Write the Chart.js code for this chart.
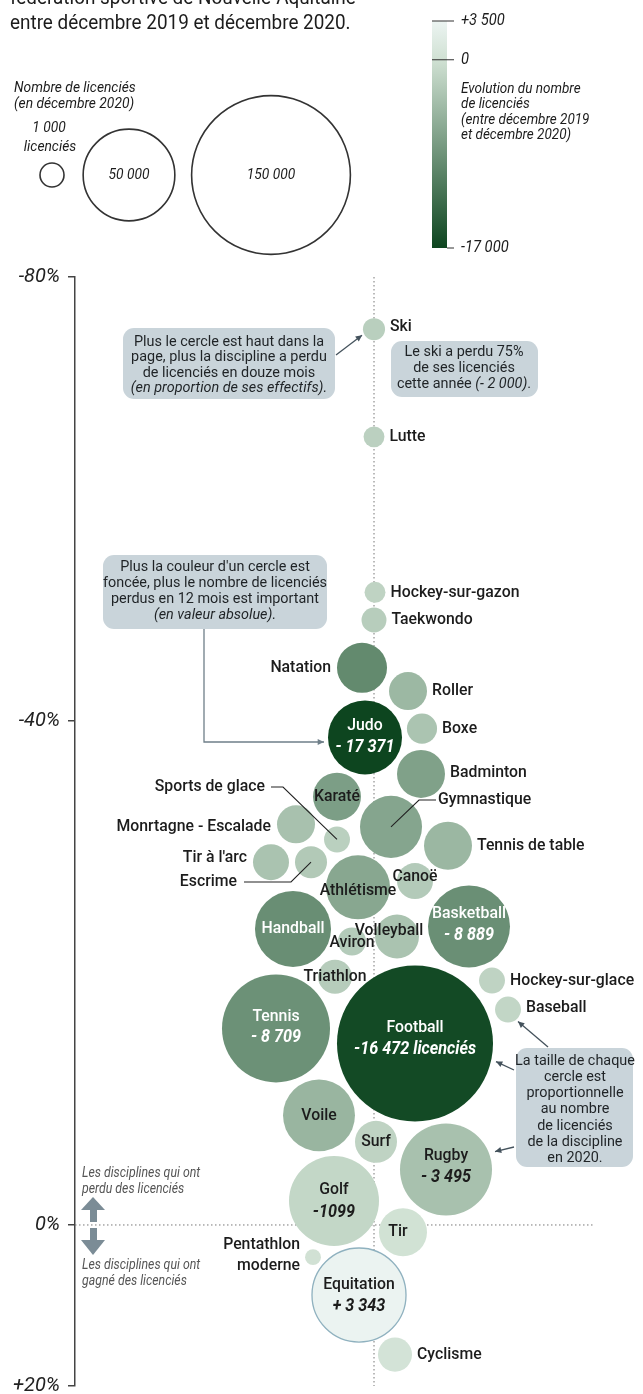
<!DOCTYPE html>
<html>
<head>
<meta charset="utf-8">
<script src="https://cdn.jsdelivr.net/npm/chart.js@4.4.1/dist/chart.umd.min.js"></script>
<style>
  html, body { margin: 0; padding: 0; background: #fff; }
  #wrap { position: relative; width: 643px; height: 1394px; }
</style>
</head>
<body>
<div id="wrap"><canvas id="chart"></canvas></div>
<script>
const sports = ["Ski", "Lutte", "Hockey-sur-gazon", "Taekwondo", "Natation", "Roller", "Boxe", "Judo",
  "Badminton", "Karaté", "Gymnastique", "Monrtagne - Escalade", "Sports de glace", "Tennis de table",
  "Tir à l'arc", "Escrime", "Canoë", "Athlétisme", "Handball", "Aviron", "Volleyball", "Basketball",
  "Triathlon", "Hockey-sur-glace", "Baseball", "Tennis", "Football", "Voile", "Surf", "Rugby", "Golf",
  "Tir", "Pentathlon moderne", "Equitation", "Cyclisme"];
// horizontal place in the swarm (no meaning, just the layout of the graphic)
const swarmX = [374, 374, 375, 374, 362, 408, 422, 365, 421, 337, 391, 296, 337, 448, 271, 311, 415, 358,
  293, 352, 397, 469, 335, 492, 508, 276, 415, 319, 376, 446, 334, 403, 313, 359, 395];
// evolution in % between Dec 2019 and Dec 2020
const pctChange = [-75.3, -65.6, -51.6, -49.1, -44.8, -42.7, -39.4, -38.7, -35.8, -34.0, -31.6, -31.8, -30.6,
  -30.1, -28.8, -28.8, -27.3, -26.8, -23.5, -22.5, -22.9, -23.7, -19.7, -19.4, -17.1, -15.6, -14.4, -8.7,
  -6.6, -4.4, -1.9, 0.9, 4.0, 8.7, 16.1];
// licenciés in Dec 2020 (estimated from circle areas)
const licencies = [2900, 2600, 2600, 3700, 14900, 8600, 5400, 32600, 13700, 13700, 22900, 8600, 4000, 13700,
  7700, 6100, 7700, 24400, 34400, 4700, 11500, 40000, 6900, 4000, 4000, 69400, 144800, 30800, 10500, 50400,
  48200, 13700, 1500, 52600, 6900];
// evolution in number of licenciés (colour)
const evolution = [-2000, -1800, -1500, -2200, -9500, -4500, -3200, -17371, -7000, -7300, -6500, -3500, -1900,
  -4600, -3300, -2600, -2500, -6300, -9000, -2400, -3300, -8889, -2300, -1500, -1200, -8709, -16472, -4800,
  -1500, -3495, -1099, 150, 80, 3343, 400];

const yTicks = [-80, -40, 0, 20];
const sizeKey = [1000, 50000, 150000];
const colourKey = [3500, 0, -17000];

// --- scale helpers ---
const FONT = 'Roboto, "Noto Sans", sans-serif';
const radiusFor = (n) => 0.205 * Math.sqrt(n);
const yShare = [0, 0.4004, 0.8548, 1];
const toShare = (v) => {
  let i = 0;
  while (i < yTicks.length - 2 && v > yTicks[i + 1]) i++;
  const t = (v - yTicks[i]) / (yTicks[i + 1] - yTicks[i]);
  return yShare[i] + t * (yShare[i + 1] - yShare[i]);
};
const fromShare = (d) => {
  let i = 0;
  while (i < yShare.length - 2 && d > yShare[i + 1]) i++;
  const t = (d - yShare[i]) / (yShare[i + 1] - yShare[i]);
  return yTicks[i] + t * (yTicks[i + 1] - yTicks[i]);
};

// the graphic's vertical axis is not evenly spaced between its ticks
class SplitScale extends Chart.LinearScale {
  getPixelForValue(value) {
    if (value === null || isNaN(value)) return NaN;
    return this.getPixelForDecimal(toShare(value));
  }
  getValueForPixel(pixel) {
    return fromShare(this.getDecimalForPixel(pixel));
  }
}
SplitScale.id = "split";

// bubble chart without the extra layout padding for the biggest radius
class SwarmController extends Chart.BubbleController {
  getMaxOverflow() { return 0; }
}
SwarmController.id = "swarm";
SwarmController.defaults = Chart.BubbleController.defaults;
SwarmController.overrides = Chart.BubbleController.overrides;
Chart.register(SplitScale, SwarmController);

const colourStops = [[3500, [236, 244, 242]], [0, [208, 225, 211]], [-17000, [13, 69, 31]]];
const colourFor = (v) => {
  let i = 0;
  while (i < colourStops.length - 2 && v < colourStops[i + 1][0]) i++;
  const [v0, c0] = colourStops[i];
  const [v1, c1] = colourStops[i + 1];
  let t = (v - v0) / (v1 - v0);
  t = Math.max(0, Math.min(1, t));
  const c = c0.map((a, k) => Math.round(a + (c1[k] - a) * t));
  return `rgb(${c[0]}, ${c[1]}, ${c[2]})`;
};

// --- text helpers ---
const write = (ctx, text, x, y, o = {}) => {
  const size = o.size || 17;
  const weight = o.bold ? "bold " : o.medium ? "500 " : "";
  ctx.save();
  ctx.font = `${o.italic ? "italic " : ""}${weight}${size}px ${FONT}`;
  ctx.fillStyle = o.color || "#1c1c1c";
  ctx.textBaseline = o.baseline || "middle";
  ctx.textAlign = "left";
  const sx = o.sx || 0.96;
  const w = ctx.measureText(text).width * sx;
  let left = x;
  if (o.align === "center") left = x - w / 2;
  else if (o.align === "right") left = x - w;
  ctx.translate(left, y);
  ctx.scale(sx, 1);
  ctx.fillText(text, 0, 0);
  ctx.restore();
  return w;
};

const writeParts = (ctx, parts, x, y, o = {}) => {
  const size = o.size || 15;
  const sx = o.sx || 0.96;
  ctx.save();
  const widths = parts.map((p) => {
    ctx.font = `${p.italic ? "italic " : ""}${size}px ${FONT}`;
    return ctx.measureText(p.t).width * sx;
  });
  ctx.restore();
  const total = widths.reduce((a, b) => a + b, 0);
  let left = x - total / 2;
  parts.forEach((p, i) => {
    write(ctx, p.t, left, y, { ...o, italic: p.italic, size, sx });
    left += widths[i];
  });
};

const arrowHead = (ctx, x0, y0, x1, y1, size = 7) => {
  const a = Math.atan2(y1 - y0, x1 - x0);
  ctx.beginPath();
  ctx.moveTo(x1, y1);
  ctx.lineTo(x1 - size * Math.cos(a - 0.45), y1 - size * Math.sin(a - 0.45));
  ctx.lineTo(x1 - size * Math.cos(a + 0.45), y1 - size * Math.sin(a + 0.45));
  ctx.closePath();
  ctx.fill();
};

const arrowLine = (ctx, pts, colour) => {
  ctx.save();
  ctx.strokeStyle = colour;
  ctx.fillStyle = colour;
  ctx.lineWidth = 1.3;
  ctx.beginPath();
  pts.forEach(([x, y], i) => (i ? ctx.lineTo(x, y) : ctx.moveTo(x, y)));
  ctx.stroke();
  const n = pts.length;
  arrowHead(ctx, pts[n - 2][0], pts[n - 2][1], pts[n - 1][0], pts[n - 1][1]);
  ctx.restore();
};

const noteBox = (ctx, x, y, w, h, lines, cx, firstY, step) => {
  ctx.save();
  ctx.fillStyle = "#c9d4da";
  ctx.beginPath();
  ctx.roundRect(x, y, w, h, 11);
  ctx.fill();
  ctx.restore();
  lines.forEach((parts, i) => writeParts(ctx, parts, cx, firstY + i * step, { size: 15, color: "#1f2326" }));
};

// --- label layout ---
const labelSpec = {
  "Ski": { pos: "right", dy: -2 },
  "Lutte": { pos: "right" },
  "Hockey-sur-gazon": { pos: "right" },
  "Taekwondo": { pos: "right" },
  "Natation": { pos: "left" },
  "Roller": { pos: "right" },
  "Boxe": { pos: "right" },
  "Judo": { pos: "in", white: true, value: "- 17 371", dy: -12, vdy: 10 },
  "Badminton": { pos: "right", dy: -1 },
  "Karaté": { pos: "in" },
  "Gymnastique": { pos: "lead", at: [438, 800], align: "left", path: [[436, 800], [419, 800]] },
  "Monrtagne - Escalade": { pos: "left", dy: 2 },
  "Sports de glace": { pos: "lead", at: [265, 787], align: "right", path: [[271, 787], [283, 787]] },
  "Tennis de table": { pos: "right" },
  "Tir à l'arc": { pos: "left", dy: -4 },
  "Escrime": { pos: "lead", at: [237, 882], align: "right", path: [[244, 882], [291, 882]] },
  "Canoë": { pos: "in", dy: -4 },
  "Athlétisme": { pos: "in", dy: 3 },
  "Handball": { pos: "in", white: true },
  "Aviron": { pos: "in", dy: 1 },
  "Volleyball": { pos: "in", dx: -8, dy: -6 },
  "Basketball": { pos: "in", white: true, value: "- 8 889", dy: -13, vdy: 9 },
  "Triathlon": { pos: "in" },
  "Hockey-sur-glace": { pos: "right" },
  "Baseball": { pos: "right", dy: -2 },
  "Tennis": { pos: "in", white: true, value: "- 8 709", dy: -12, vdy: 9 },
  "Football": { pos: "in", white: true, value: "-16 472 licenciés", dy: -16, vdy: 6 },
  "Voile": { pos: "in" },
  "Surf": { pos: "in" },
  "Rugby": { pos: "in", value: "- 3 495", dy: -14, vdy: 8 },
  "Golf": { pos: "in", value: "-1099", dy: -11, vdy: 11 },
  "Tir": { pos: "in", dx: -5 },
  "Pentathlon moderne": { pos: "left", lines: ["Pentathlon", "moderne"], dys: [-12, 9] },
  "Equitation": { pos: "in", value: "+ 3 343", dy: -10, vdy: 11 },
  "Cyclisme": { pos: "right" },
};

const swarmDecor = {
  id: "swarmDecor",
  beforeDatasetsDraw(chart) {
    const { ctx, scales: { x, y } } = chart;
    ctx.save();
    ctx.strokeStyle = "#777";
    ctx.lineWidth = 1;
    ctx.setLineDash([1.5, 2.5]);
    const mid = x.getPixelForValue(374);
    ctx.beginPath();
    ctx.moveTo(mid, y.top);
    ctx.lineTo(mid, y.bottom);
    const zero = y.getPixelForValue(0);
    ctx.moveTo(x.left, zero);
    ctx.lineTo(x.getPixelForValue(594), zero);
    ctx.stroke();
    ctx.restore();
  },
  afterDraw(chart) {
    const { ctx } = chart;
    const meta = chart.getDatasetMeta(0);

    // title (first line cut by the frame)
    write(ctx, "fédération sportive de Nouvelle-Aquitaine", 10, 4, { size: 21, baseline: "alphabetic", sx: 0.9 });
    write(ctx, "entre décembre 2019 et décembre 2020.", 10, 29, { size: 21, baseline: "alphabetic", sx: 0.9 });

    // size key
    write(ctx, "Nombre de licenciés", 14, 88, { size: 15, italic: true, sx: 0.92 });
    write(ctx, "(en décembre 2020)", 14, 104, { size: 15, italic: true, sx: 0.92 });
    write(ctx, "1 000", 49, 128, { size: 15, italic: true, align: "center", sx: 0.92 });
    write(ctx, "licenciés", 50, 147, { size: 15, italic: true, align: "center", sx: 0.92 });
    const keyX = [52, 129, 271];
    sizeKey.forEach((v, i) => {
      ctx.save();
      ctx.strokeStyle = "#333";
      ctx.lineWidth = 1.6;
      ctx.beginPath();
      ctx.arc(keyX[i], 175, Math.max(12, radiusFor(v)), 0, Math.PI * 2);
      ctx.stroke();
      ctx.restore();
      if (i > 0) write(ctx, v.toLocaleString("fr-FR").replace(/\s/g, " "), keyX[i], 175,
        { size: 15, italic: true, align: "center", sx: 0.92 });
    });

    // colour key
    const keyTop = 21, keyBottom = 248;
    const keyY = (v) => keyTop + (colourKey[0] - v) / (colourKey[0] - colourKey[2]) * (keyBottom - keyTop);
    const grad = ctx.createLinearGradient(0, keyTop, 0, keyBottom);
    colourStops.forEach(([v]) => grad.addColorStop((keyY(v) - keyTop) / (keyBottom - keyTop), colourFor(v)));
    ctx.fillStyle = grad;
    ctx.fillRect(432, keyTop, 15, keyBottom - keyTop);
    ctx.save();
    ctx.strokeStyle = "#333";
    ctx.lineWidth = 1.2;
    ctx.beginPath();
    colourKey.forEach((v, i) => {
      const yy = keyY(v);
      ctx.moveTo(i < 2 ? 432 : 447, yy);
      ctx.lineTo(454, yy);
    });
    ctx.stroke();
    ctx.restore();
    colourKey.forEach((v) => {
      const s = v === 0 ? "0" : (v > 0 ? "+" : "-") + Math.abs(v).toLocaleString("fr-FR").replace(/\s/g, " ");
      write(ctx, s, 461, keyY(v), { size: 16, italic: true, sx: 0.92 });
    });
    ["Evolution du nombre", "de licenciés", "(entre décembre 2019", "et décembre 2020)"].forEach((t, i) =>
      write(ctx, t, 461, 89 + i * 15.5, { size: 15, italic: true, sx: 0.9 }));

    // labels of the circles
    sports.forEach((name, i) => {
      const el = meta.data[i];
      const r = el.options.radius;
      const s = labelSpec[name] || { pos: "right" };
      const dx = s.dx || 0, dy = s.dy || 0;
      if (s.pos === "right") {
        write(ctx, name, el.x + r + 5 + dx, el.y + dy, { medium: true, sx: 0.93 });
      } else if (s.pos === "left") {
        if (s.lines) s.lines.forEach((t, k) => write(ctx, t, el.x - r - 5, el.y + s.dys[k], { align: "right", medium: true, sx: 0.93 }));
        else write(ctx, name, el.x - r - 6 + dx, el.y + dy, { align: "right", medium: true, sx: 0.93 });
      } else if (s.pos === "in") {
        const colour = s.white ? "#ffffff" : "#1c1c1c";
        write(ctx, name, el.x + dx, el.y + dy, { align: "center", color: colour, medium: true, sx: 0.93 });
        if (s.value) write(ctx, s.value, el.x, el.y + s.vdy, { align: "center", bold: true, italic: true, size: 18, sx: 0.9, color: colour });
      } else if (s.pos === "lead") {
        write(ctx, name, s.at[0], s.at[1], { align: s.align, medium: true, sx: 0.93 });
        ctx.save();
        ctx.strokeStyle = "#222";
        ctx.lineWidth = 1.1;
        ctx.beginPath();
        s.path.forEach(([px, py], k) => (k ? ctx.lineTo(px, py) : ctx.moveTo(px, py)));
        ctx.lineTo(el.x, el.y);
        ctx.stroke();
        ctx.restore();
      }
    });

    // explanation boxes
    noteBox(ctx, 123, 328, 212, 71, [
      [{ t: "Plus le cercle est haut dans la" }],
      [{ t: "page, plus la discipline a perdu" }],
      [{ t: "de licenciés en douze mois" }],
      [{ t: "(en proportion de ses effectifs).", italic: true }],
    ], 229, 342, 15.5);
    const ski = meta.data[0];
    arrowLine(ctx, [[336, 355], [ski.x - 12, ski.y + 6]], "#44525c");

    noteBox(ctx, 391, 341, 147, 56, [
      [{ t: "Le ski a perdu 75%" }],
      [{ t: "de ses licenciés" }],
      [{ t: "cette année " }, { t: "(- 2 000)", italic: true }, { t: "." }],
    ], 464, 352, 16);

    noteBox(ctx, 103, 555, 224, 74, [
      [{ t: "Plus la couleur d'un cercle est" }],
      [{ t: "foncée, plus le nombre de licenciés" }],
      [{ t: "perdus en 12 mois est important" }],
      [{ t: "(en valeur absolue).", italic: true }],
    ], 215, 567, 16);
    const judo = meta.data[7];
    arrowLine(ctx, [[204, 629], [204, 742], [judo.x - judo.options.radius - 4, 742]], "#6f7f89");

    noteBox(ctx, 516, 1048, 117, 119, [
      [{ t: "La taille de chaque" }], [{ t: "cercle est" }], [{ t: "proportionnelle" }], [{ t: "au nombre" }],
      [{ t: "de licenciés" }], [{ t: "de la discipline" }], [{ t: "en 2020." }],
    ], 575, 1061, 16.2);
    const base = meta.data[24], foot = meta.data[26], rug = meta.data[29];
    arrowLine(ctx, [[548, 1047], [base.x + 10, base.y + 12]], "#44525c");
    arrowLine(ctx, [[514, 1070], [foot.x + 81, foot.y + 18]], "#44525c");
    arrowLine(ctx, [[514, 1147], [rug.x + 49, rug.y - 18]], "#44525c");

    // up / down hints next to 0 %
    ctx.save();
    ctx.fillStyle = "#7b8c96";
    ctx.fillRect(90, 1209, 7, 13);
    ctx.beginPath();
    ctx.moveTo(81, 1210); ctx.lineTo(105, 1210); ctx.lineTo(93, 1197); ctx.closePath(); ctx.fill();
    ctx.fillRect(90, 1228, 7, 13);
    ctx.beginPath();
    ctx.moveTo(81, 1240); ctx.lineTo(105, 1240); ctx.lineTo(93, 1255); ctx.closePath(); ctx.fill();
    ctx.restore();
    const hint = { size: 14, italic: true, color: "#555", sx: 0.88 };
    write(ctx, "Les disciplines qui ont", 82, 1173, hint);
    write(ctx, "perdu des licenciés", 82, 1189, hint);
    write(ctx, "Les disciplines qui ont", 82, 1265, hint);
    write(ctx, "gagné des licenciés", 82, 1281, hint);
  },
};

const points = sports.map((s, i) => ({ x: swarmX[i], y: pctChange[i], r: radiusFor(licencies[i]) }));

new Chart(document.getElementById("chart"), {
  type: "swarm",
  data: {
    datasets: [{
      data: points,
      clip: false,
      backgroundColor: evolution.map(colourFor),
      borderColor: sports.map((s) => (s === "Equitation" ? "#8fb1bf" : "rgba(0,0,0,0)")),
      borderWidth: sports.map((s) => (s === "Equitation" ? 1.3 : 0)),
    }],
  },
  options: {
    responsive: true,
    maintainAspectRatio: false,
    animation: false,
    events: [],
    layout: { padding: { top: 277, bottom: 8, left: 0, right: 0 } },
    plugins: { legend: { display: false }, tooltip: { enabled: false } },
    scales: {
      x: { type: "linear", min: 75, max: 643, display: false },
      y: {
        type: "split",
        min: -80,
        max: 20,
        reverse: true,
        position: "left",
        afterBuildTicks: (s) => { s.ticks = yTicks.map((v) => ({ value: v })); },
        afterFit: (s) => { s.width = 75; s.paddingTop = 0; s.paddingBottom = 0; },
        grid: { drawOnChartArea: false, tickLength: 7, color: "#444", lineWidth: 1.5 },
        border: { color: "#444", width: 1.5 },
        ticks: {
          padding: 8,
          color: "#222",
          font: { family: FONT, size: 20, style: "italic" },
          callback: (v) => (v > 0 ? "+" : "") + v + "%",
        },
      },
    },
  },
  plugins: [swarmDecor],
});
</script>
</body>
</html>
